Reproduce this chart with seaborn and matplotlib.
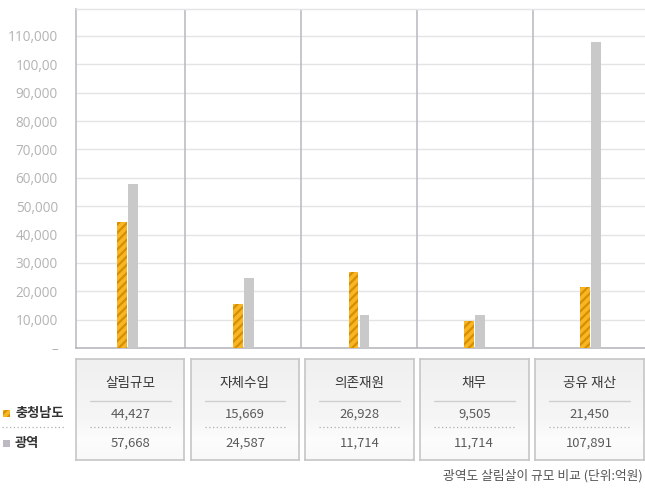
import matplotlib
matplotlib.use("Agg")
import matplotlib.pyplot as plt
import seaborn as sns
import numpy as np
import pandas as pd
from matplotlib.patches import Rectangle
from matplotlib.lines import Line2D

# ---- data ----
categories = ['살림규모', '자체수입', '의존재원', '채무', '공유 재산']
series_names = ['충청남도', '광역']
chungnam = [44427, 15669, 26928, 9505, 21450]
gwangyeok = [57668, 24587, 11714, 11714, 107891]
ytick_values = [0, 10000, 20000, 30000, 40000, 50000, 60000, 70000, 80000, 90000, 100000, 110000]
ytick_labels = ['–', '10,000', '20,000', '30,000', '40,000', '50,000', '60,000',
                '70,000', '80,000', '90,000', '100,00', '110,000']
caption = '광역도 살림살이 규모 비교 (단위:억원)'

df = pd.DataFrame({
    'category': categories * 2,
    'region': [series_names[0]] * len(categories) + [series_names[1]] * len(categories),
    'value': chungnam + gwangyeok,
})

sns.set_theme(style='white')
plt.rcParams['font.family'] = ['Noto Sans CJK KR', 'DejaVu Sans']
plt.rcParams['hatch.linewidth'] = 1.6

W, H = 645, 490
fig = plt.figure(figsize=(W / 100, H / 100), dpi=100)
fig.patch.set_facecolor('white')


def fx(x):
    return x / W


def fy(y):
    return 1 - y / H


ORANGE = '#f7b722'
ORANGE_DARK = '#d98d06'
GRAY = '#c9c9c9'

ax = fig.add_axes([fx(76), fy(348), (645 - 76) / W, (348 - 9.3) / H])
sns.barplot(data=df, x='category', y='value', hue='region', order=categories,
            hue_order=series_names, palette=[ORANGE, GRAY], width=0.19, gap=0.1,
            saturation=1, legend=False, ax=ax, zorder=3)
for bar in ax.containers[0]:
    bar.set_hatch('////')
    bar.set_edgecolor(ORANGE_DARK)
    bar.set_linewidth(0)
for bar in ax.containers[1]:
    bar.set_linewidth(0)

ax.set_xlim(-0.445, 4.471)
ax.set_ylim(0, 119400)
ax.set_yticks(ytick_values)
ax.set_yticklabels(ytick_labels)
ax.set_xticks([])
ax.set_xlabel('')
ax.set_ylabel('')
ax.tick_params(axis='y', length=0, pad=13, labelsize=9.8, labelcolor='#b3b3b3')
for lab in ax.get_yticklabels():
    lab.set_family(['Open Sans', 'DejaVu Sans'])
for v in ytick_values[1:]:
    ax.axhline(v, color='#e4e4e4', lw=1, zorder=1)
for i in range(len(categories) - 1):
    ax.axvline(i + 0.5, color='#bdbcc4', lw=1.2, zorder=2)
ax.spines['right'].set_visible(False)
ax.spines['top'].set_color('#e4e4e4')
ax.spines['top'].set_linewidth(1)
ax.spines['left'].set_color('#bdbcc4')
ax.spines['left'].set_linewidth(1.2)
ax.spines['bottom'].set_color('#b8b8c0')
ax.spines['bottom'].set_linewidth(1.2)

# ---- table boxes ----
box_lefts = [76, 190.7, 305.3, 420, 535]
box_w = 108.5
top, bottom = 359, 460
g = np.linspace(0, 1, 100)
shade = np.interp(g, [0, 0.6, 0.8, 1.0], [0.94, 0.965, 0.99, 0.975])
cols = np.repeat(shade[:, None, None], 3, axis=2)
for i, cat in enumerate(categories):
    bl = box_lefts[i]
    bw = min(box_w, 644.5 - bl)
    gax = fig.add_axes([fx(bl), fy(bottom), bw / W, (bottom - top) / H])
    gax.imshow(cols, aspect='auto', extent=(0, 1, 0, 1), vmin=0, vmax=1)
    gax.set_xticks([])
    gax.set_yticks([])
    for s in gax.spines.values():
        s.set_color('#c6c6c6')
        s.set_linewidth(1.2)
    cx = bl + bw / 2
    fig.text(fx(cx), fy(383), cat, ha='center', va='center', fontsize=9.8, color='#383838')
    fig.add_artist(Line2D([fx(bl + 14), fx(bl + bw - 14)], [fy(401), fy(401)],
                          color='#cfcfcf', lw=1))
    fig.text(fx(cx), fy(414), f'{chungnam[i]:,}', ha='center', va='center',
             fontsize=9.4, color='#5a5a5a')
    fig.add_artist(Line2D([fx(bl + 14), fx(bl + bw - 14)], [fy(427), fy(427)],
                          color='#b0b0b0', lw=0.9, ls=(0, (1, 2))))
    fig.text(fx(cx), fy(443), f'{gwangyeok[i]:,}', ha='center', va='center',
             fontsize=9.4, color='#5a5a5a')

# ---- left legend ----
fig.add_artist(Rectangle((fx(3), fy(416.5)), 7 / W, 7 / H, transform=fig.transFigure,
                         facecolor=ORANGE, edgecolor=ORANGE_DARK, lw=0, hatch='////'))
fig.text(fx(15), fy(413), series_names[0], ha='left', va='center', fontsize=9.5,
         fontweight='bold', color='#333333')
fig.add_artist(Line2D([fx(2), fx(65)], [fy(427), fy(427)], color='#b0b0b0', lw=0.9,
                      ls=(0, (1, 2))))
fig.add_artist(Rectangle((fx(3), fy(447)), 7 / W, 7 / H, transform=fig.transFigure,
                         facecolor='#bcb9c2', lw=0))
fig.text(fx(15), fy(443), series_names[1], ha='left', va='center', fontsize=9.5,
         fontweight='bold', color='#333333')

fig.text(fx(643), fy(476), caption, ha='right', va='center', fontsize=9.2, color='#555555')

fig.savefig('out.png', dpi=100, facecolor='white')
